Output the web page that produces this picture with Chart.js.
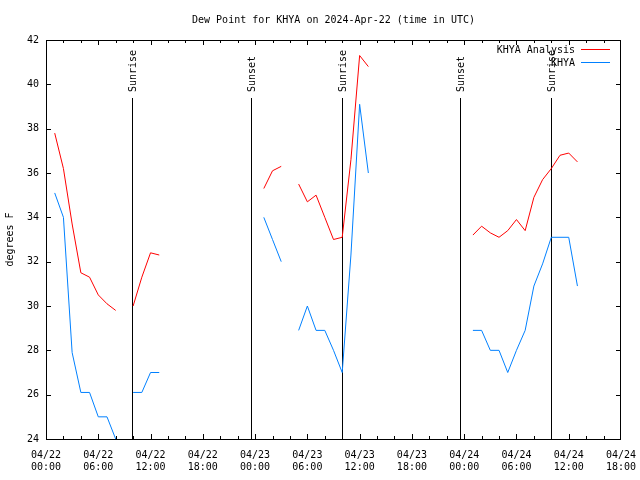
<!DOCTYPE html>
<html>
<head>
<meta charset="utf-8">
<script src="https://cdn.jsdelivr.net/npm/chart.js@4/dist/chart.umd.min.js"></script>
<style>
  html, body { margin: 0; padding: 0; background: #fff; }
  canvas { display: block; }
</style>
</head>
<body>
<canvas id="chartDew" width="640" height="480"></canvas>
<script>
// hours since 04/22 00:00 UTC, null rows break the lines
const hours = [1, 2, 3, 4, 5, 6, 7, 8, 9, 10, 11, 12, 13, 19,
  25, 26, 27, 28, 29, 30, 31, 32, 33, 34, 35, 36, 37, 43,
  49, 50, 51, 52, 53, 54, 55, 56, 57, 58, 59, 60, 61];

const analysis = [37.8, 36.2, 33.7, 31.5, 31.3, 30.5, 30.1, 29.8, null, 30.0, 31.3, 32.4, 32.3, null,
  35.3, 36.1, 36.3, null, 35.5, 34.7, 35.0, 34.0, 33.0, 33.1, 36.6, 41.3, 40.8, null,
  33.2, 33.6, 33.3, 33.1, 33.4, 33.9, 33.4, 34.9, 35.7, 36.2, 36.8, 36.9, 36.5];

const observed = [35.1, 34.0, 27.9, 26.1, 26.1, 25.0, 25.0, 24.0, null, 26.1, 26.1, 27.0, 27.0, null,
  34.0, 33.0, 32.0, null, 28.9, 30.0, 28.9, 28.9, 28.0, 27.0, 32.3, 39.1, 36.0, null,
  28.9, 28.9, 28.0, 28.0, 27.0, 28.0, 28.9, 30.9, 31.9, 33.1, 33.1, 33.1, 30.9];

const xTickDates = ["04/22", "04/22", "04/22", "04/22", "04/23", "04/23", "04/23", "04/23", "04/24", "04/24", "04/24", "04/24"];
const xTickTimes = ["00:00", "06:00", "12:00", "18:00", "00:00", "06:00", "12:00", "18:00", "00:00", "06:00", "12:00", "18:00"];

const sunHours = [9.92, 23.5, 33.95, 47.5, 57.97];
const sunLabels = ["Sunrise", "Sunset", "Sunrise", "Sunset", "Sunrise"];

const seriesNames = ["KHYA Analysis", "KHYA"];
const seriesColors = ["#ff0000", "#0080ff"];

const chartTitle = "Dew Point for KHYA on 2024-Apr-22 (time in UTC)";

const FONT = "DejaVu Sans Mono";

// gnuplot style box with inward ticks on all four sides
const framePlugin = {
  id: "frame",
  afterDatasetsDraw(chart) {
    const { ctx, chartArea: a, scales } = chart;
    ctx.save();
    ctx.strokeStyle = "#000";
    ctx.lineWidth = 1;
    ctx.strokeRect(a.left + 0.5, a.top + 0.5, a.right - a.left - 1, a.bottom - a.top);
    ctx.beginPath();
    for (let h = 2; h < 66; h += 2) {
      const x = Math.round(scales.x.getPixelForValue(h)) + 0.5;
      const len = h % 6 === 0 ? 5 : 3;
      ctx.moveTo(x, a.bottom);
      ctx.lineTo(x, a.bottom - len);
      ctx.moveTo(x, a.top);
      ctx.lineTo(x, a.top + len);
    }
    for (let v = 26; v < 42; v += 2) {
      const y = Math.round(scales.y.getPixelForValue(v)) + 0.5;
      ctx.moveTo(a.left, y);
      ctx.lineTo(a.left + 5, y);
      ctx.moveTo(a.right, y);
      ctx.lineTo(a.right - 5, y);
    }
    ctx.stroke();

    ctx.fillStyle = "#000";
    ctx.font = "10px '" + FONT + "'";
    ctx.textAlign = "center";
    ctx.textBaseline = "middle";
    ctx.fillText(chartTitle, (a.left + a.right) / 2, 20);
    ctx.restore();
  }
};

const sunPlugin = {
  id: "sun",
  beforeDatasetsDraw(chart) {
    const { ctx, chartArea: a, scales } = chart;
    ctx.save();
    ctx.strokeStyle = "#000";
    ctx.fillStyle = "#000";
    ctx.lineWidth = 1;
    ctx.font = "10px '" + FONT + "'";
    sunHours.forEach((h, i) => {
      const x = Math.round(scales.x.getPixelForValue(h)) + 0.5;
      ctx.beginPath();
      ctx.moveTo(x, 98);
      ctx.lineTo(x, a.bottom);
      ctx.stroke();
      ctx.save();
      ctx.translate(x + 1, 92);
      ctx.rotate(-Math.PI / 2);
      ctx.textAlign = "left";
      ctx.textBaseline = "middle";
      ctx.fillText(sunLabels[i], 0, 0);
      ctx.restore();
    });
    ctx.restore();
  }
};

const legendPlugin = {
  id: "keyBox",
  afterDraw(chart) {
    const { ctx } = chart;
    ctx.save();
    ctx.font = "10px '" + FONT + "'";
    ctx.textAlign = "right";
    ctx.textBaseline = "middle";
    ctx.lineWidth = 1;
    seriesNames.forEach((name, i) => {
      const y = 49 + i * 13;
      ctx.fillStyle = "#000";
      ctx.fillText(name, 575, y + 1);
      ctx.strokeStyle = seriesColors[i];
      ctx.beginPath();
      ctx.moveTo(581, y + 0.5);
      ctx.lineTo(610, y + 0.5);
      ctx.stroke();
    });
    ctx.restore();
  }
};

function makeSet(i, values) {
  return {
    label: seriesNames[i],
    data: hours.map((h, k) => ({ x: h, y: values[k] })),
    borderColor: seriesColors[i],
    borderWidth: 1,
    pointRadius: 0,
    tension: 0,
    spanGaps: false,
    fill: false
  };
}

new Chart(document.getElementById("chartDew"), {
  type: "line",
  data: {
    datasets: [makeSet(0, analysis), makeSet(1, observed)]
  },
  options: {
    responsive: false,
    animation: false,
    layout: { padding: { left: 0, right: 19, top: 40, bottom: 0 } },
    plugins: {
      legend: { display: false },
      tooltip: { enabled: false },
      title: { display: false }
    },
    scales: {
      x: {
        type: "linear",
        min: 0,
        max: 66,
        grid: { display: false, drawTicks: false },
        border: { display: false },
        ticks: {
          stepSize: 6,
          autoSkip: false,
          maxRotation: 0,
          color: "#000",
          padding: 10,
          font: { family: FONT, size: 10, lineHeight: 1.25 },
          callback: (v) => {
            const i = Math.round(v / 6);
            return [xTickDates[i], xTickTimes[i]];
          }
        },
        afterFit(s) {
          s.height = 41;
          s.paddingLeft = 0;
          s.paddingRight = 0;
        }
      },
      y: {
        min: 24,
        max: 42,
        grid: { display: false, drawTicks: false },
        border: { display: false },
        ticks: {
          stepSize: 2,
          color: "#000",
          padding: 7,
          font: { family: FONT, size: 10 }
        },
        title: {
          display: true,
          text: "degrees F",
          color: "#000",
          font: { family: FONT, size: 10 },
          padding: { top: 4, bottom: 4 }
        },
        afterFit(s) {
          s.width = 46;
          s.paddingTop = 0;
          s.paddingBottom = 0;
        }
      }
    }
  },
  plugins: [sunPlugin, framePlugin, legendPlugin]
});
</script>
</body>
</html>
